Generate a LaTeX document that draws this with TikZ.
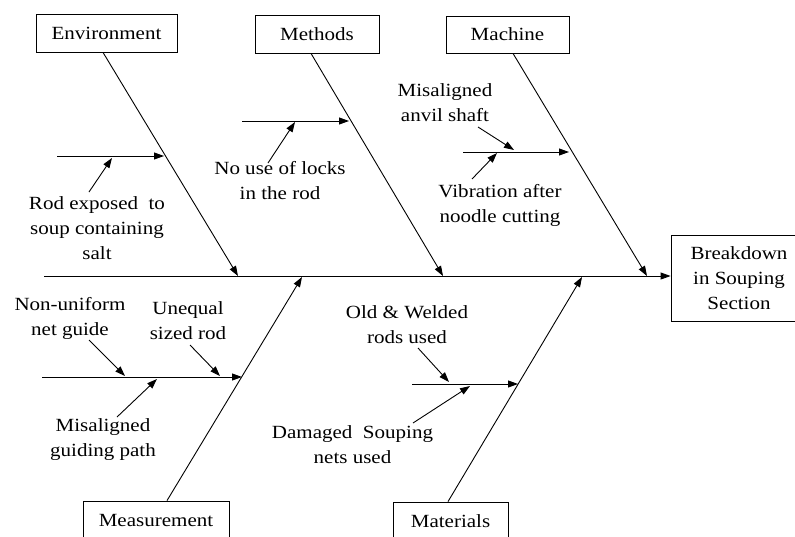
\documentclass[tikz,border=0pt]{standalone}
\usepackage{fontspec}
\setmainfont{Liberation Serif}[FakeStretch=1.13]
\usetikzlibrary{arrows.meta}
\begin{document}
\begin{tikzpicture}[x=1pt,y=-1pt,
  lbl/.style={font=\fontsize{18.6}{25}\selectfont, align=center, inner sep=0pt},
  cat/.style={draw, line width=0.8pt, font=\fontsize{18.6}{25}\selectfont, minimum height=38pt, inner sep=0pt, align=center},
  arr/.style={line width=0.9pt, -{Triangle[length=10pt,width=7pt]}},
  ]
\useasboundingbox (0,0) rectangle (795,536);
\clip (0,0) rectangle (795,536);

% category boxes
\node[cat, minimum width=141pt] (env) at (106.5,33) {Environment};
\node[cat, minimum width=124pt] (met) at (317,34) {Methods};
\node[cat, minimum width=123pt, minimum height=37pt] (mac) at (507.5,34.5) {Machine};
\node[cat, minimum width=146pt] (mea) at (156,520) {Measurement};
\node[cat, minimum width=115pt] (mat) at (450.5,521) {Materials};
\node[cat, minimum width=136pt, minimum height=86pt] (eff) at (739,278) {Breakdown\\in Souping\\Section};

% spine
\coordinate (s0) at (44,276);
\draw[arr] (s0) -- (s0 -| eff.west);

% bone end points on spine
\coordinate (e1) at (238,276);
\coordinate (e2) at (443,276);
\coordinate (e3) at (647,276);
\coordinate (e4) at (302,277);
\coordinate (e5) at (582,277);

\draw[arr] ([xshift=-3.5pt]env.south) -- (e1);
\draw[arr] ([xshift=-6pt]met.south) -- (e2);
\draw[arr] ([xshift=5.5pt]mac.south) -- (e3);
\draw[arr] ([xshift=11pt]mea.north) -- (e4);
\draw[arr] ([xshift=-2.5pt]mat.north) -- (e5);

% labels
\node[lbl] (t1) at (97,228) {Rod exposed\ \ to\\soup containing\\salt};
\node[lbl] (t2) at (280,181) {No use of locks\\in the rod};
\node[lbl] (t3) at (445,102.5) {Misaligned\\anvil shaft};
\node[lbl] (t4) at (500,205) {Vibration after\\noodle cutting};
\node[lbl] (t5) at (70,318) {Non-uniform\\net guide};
\node[lbl] (t6) at (188,321) {Unequal\\sized rod};
\node[lbl] (t7) at (103,440) {Misaligned\\guiding path};
\node[lbl] (t8) at (407,325) {Old \& Welded\\rods used};
\node[lbl] (t9) at (352.5,445) {Damaged\ \ Souping\\nets used};

% Environment sub-branch
\coordinate (a1) at (57,156);  \coordinate (b1) at (164,156);
\draw[arr] (a1) -- (b1);
\coordinate (p1) at (89,192);  \coordinate (q1) at (112,158);
\draw[arr] (p1) -- (q1);

% Methods sub-branch
\coordinate (a2) at (242,121); \coordinate (b2) at (349,121);
\draw[arr] (a2) -- (b2);
\coordinate (p2) at (268,163); \coordinate (q2) at (295,122);
\draw[arr] (p2) -- (q2);

% Machine sub-branch
\coordinate (a3) at (463,152); \coordinate (b3) at (569,152);
\draw[arr] (a3) -- (b3);
\coordinate (p3) at (478,127); \coordinate (q3) at (514,150);
\draw[arr] (p3) -- (q3);
\coordinate (p4) at (472,179); \coordinate (q4) at (497,153);
\draw[arr] (p4) -- (q4);

% Measurement sub-branch
\coordinate (a4) at (42,377);  \coordinate (b4) at (242,377);
\draw[arr] (a4) -- (b4);
\coordinate (p5) at (89,340);  \coordinate (q5) at (125,376);
\draw[arr] (p5) -- (q5);
\coordinate (p6) at (190,345); \coordinate (q6) at (220,376);
\draw[arr] (p6) -- (q6);
\coordinate (p7) at (117,417); \coordinate (q7) at (157,379);
\draw[arr] (p7) -- (q7);

% Materials sub-branch
\coordinate (a5) at (412,384); \coordinate (b5) at (518,384);
\draw[arr] (a5) -- (b5);
\coordinate (p8) at (418,348); \coordinate (q8) at (449,382);
\draw[arr] (p8) -- (q8);
\coordinate (p9) at (413,423); \coordinate (q9) at (470,386);
\draw[arr] (p9) -- (q9);
\end{tikzpicture}
\end{document}
